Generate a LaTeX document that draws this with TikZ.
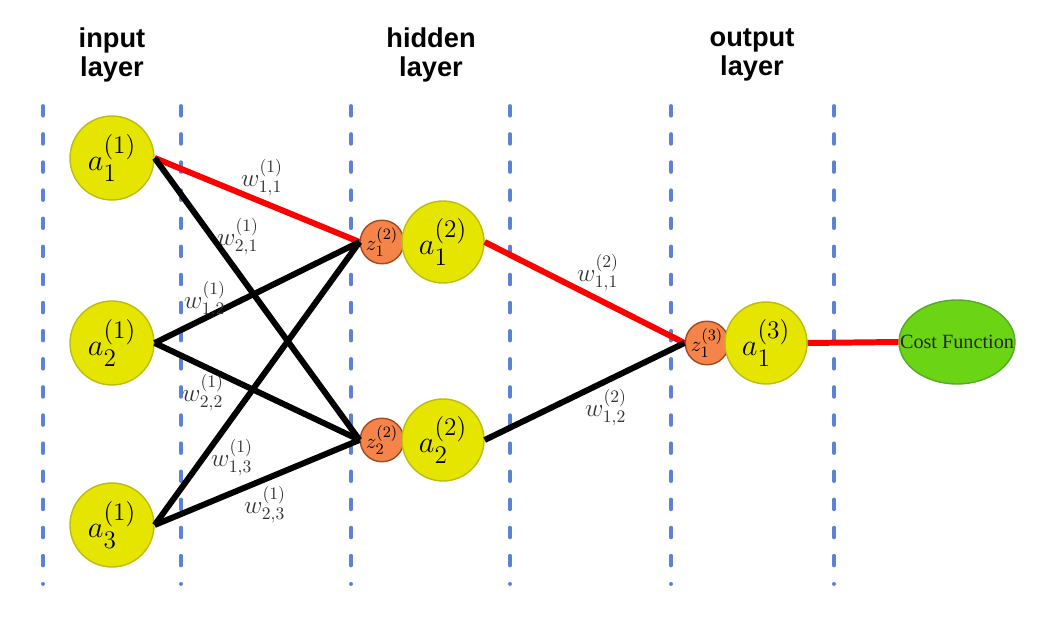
\documentclass[tikz,border=0pt]{standalone}
\usepackage{fontspec}
\usepackage{amsmath}
\newfontfamily\headfont{Liberation Sans}
\newfontfamily\costfont{Liberation Serif}
\usetikzlibrary{shapes.geometric}

\definecolor{neuronfill}{HTML}{E5E500}
\definecolor{neuronline}{HTML}{BDBD10}
\definecolor{sumfill}{HTML}{F4844A}
\definecolor{sumline}{HTML}{A04A20}
\definecolor{costfill}{HTML}{6AD415}
\definecolor{costline}{HTML}{58A82A}
\definecolor{gridblue}{HTML}{5B82D6}
\definecolor{wire}{HTML}{FF0000}

\begin{document}
\begin{tikzpicture}[x=0.02cm,y=-0.02cm,
	neuron/.style={circle,inner sep=0pt,minimum size=1.64cm,fill=neuronfill,draw=neuronline,line width=0.8pt,font=\fontsize{19}{21}\selectfont},
	sumnode/.style={circle,inner sep=0pt,minimum size=0.76cm,fill=sumfill,draw=sumline,line width=0.8pt,font=\fontsize{12.5}{13}\selectfont},
	costnode/.style={ellipse,inner sep=0pt,minimum width=2.32cm,minimum height=1.68cm,fill=costfill,draw=costline,line width=0.8pt},
	costtext/.style={inner sep=0pt,font=\costfont\fontsize{11.5}{12}\selectfont,text=black!85},
	headtext/.style={align=center,font=\headfont\bfseries\fontsize{15.5}{16.5}\selectfont},
	wlabel/.style={inner sep=0pt,font=\fontsize{14}{15}\selectfont,text=black!80},
	link/.style={line width=3.4pt,black},
	redlink/.style={line width=3.4pt,wire},
	gridline/.style={gridblue,line width=2.2pt,line cap=round,dash pattern=on 5.5pt off 10.5pt}]
	\useasboundingbox (0,0) rectangle (1041,624);
	% layer separators
	\foreach \gx in {43,181,351,510,671,834}
		\draw[gridline] (\gx,106) -- (\gx,584);
	% headings
	\node[headtext] (inhead) at (112,55) {input\\layer};
	\node[headtext] (hidhead) at (431,55) {hidden\\layer};
	\node[headtext] (outhead) at (752,55) {output\\layer};
	% input layer
	\node[neuron,minimum size=1.68cm] (a11) at (112,158) {$a^{(1)}_1$};
	\node[neuron,minimum size=1.68cm] (a21) at (112,343) {$a^{(1)}_2$};
	\node[neuron,minimum size=1.68cm] (a31) at (112,525) {$a^{(1)}_3$};
	% hidden layer
	\node[sumnode] (z12) at (382,242) {$z^{(2)}_1$};
	\node[neuron] (a12) at (443,242) {$a^{(2)}_1$};
	\node[sumnode] (z22) at (382,440) {$z^{(2)}_2$};
	\node[neuron] (a22) at (443,440) {$a^{(2)}_2$};
	% output layer
	\node[sumnode] (z13) at (707,343) {$z^{(3)}_1$};
	\node[neuron] (a13) at (766,343) {$a^{(3)}_1$};
	\node[costnode] (cost) at (957,342) {};
	\node[costtext] (costlabel) at (cost.center) {Cost Function};
	% weights
	\draw[redlink] (a11.east) -- (z12.west);
	\draw[link] (a11.east) -- (z22.west);
	\draw[link] (a21.east) -- (z12.west);
	\draw[link] (a21.east) -- (z22.west);
	\draw[link] (a31.east) -- (z12.west);
	\draw[link] (a31.east) -- (z22.west);
	\draw[redlink] (a12.east) -- (z13.west);
	\draw[link] (a22.east) -- (z13.west);
	\draw[redlink] (a13.east) -- (cost.west);
	\node[wlabel] (w111) at (262,178) {$w^{(1)}_{1,1}$};
	\node[wlabel] (w121) at (238,237) {$w^{(1)}_{2,1}$};
	\node[wlabel] (w112) at (205,300) {$w^{(1)}_{1,2}$};
	\node[wlabel] (w122) at (203,393) {$w^{(1)}_{2,2}$};
	\node[wlabel] (w113) at (232,458) {$w^{(1)}_{1,3}$};
	\node[wlabel] (w123) at (265,505) {$w^{(1)}_{2,3}$};
	\node[wlabel] (w211) at (598,273) {$w^{(2)}_{1,1}$};
	\node[wlabel] (w212) at (606,408) {$w^{(2)}_{1,2}$};
\end{tikzpicture}
\end{document}
